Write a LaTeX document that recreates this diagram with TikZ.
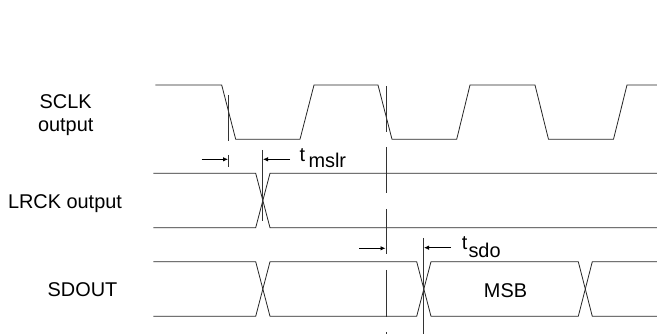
\documentclass[tikz,border=0pt]{standalone}
\usepackage{fontspec}
\setmainfont{Liberation Sans}
\usetikzlibrary{arrows.meta}
\tikzset{
  wave/.style={draw=black!85,line width=0.8pt,line join=miter},
  mark line/.style={draw=black!80,line width=0.7pt},
  dim/.style={draw=black,line width=0.8pt,-{Latex[length=5pt,width=4.5pt]}},
  lab/.style={font=\fontsize{19.9}{22}\selectfont,inner sep=0pt,anchor=base},
  tl/.style={font=\fontsize{19.9}{22}\selectfont,inner sep=0pt,anchor=base west}
}
\begin{document}
\begin{tikzpicture}[x=1pt,y=-1pt]
\useasboundingbox (0,0) rectangle (657,334);
% SCLK
\draw[wave] (155.3,85) -- (221.7,85) -- (235.7,139.3) -- (300,139.3) -- (314,85) -- (378,85) -- (392,139.3) -- (456.7,139.3) -- (470,85) -- (535,85) -- (548.5,139.3) -- (613.5,139.3) -- (627,85) -- (657,85);
% LRCK
\draw[wave] (153.3,173.3) -- (255.7,173.3) -- (270,227.7) -- (657,227.7);
\draw[wave] (153.3,227.7) -- (255.7,227.7) -- (270,173.3) -- (657,173.3);
% SDOUT
\draw[wave] (153.3,261.7) -- (255.7,261.7) -- (270,316.3) -- (416.7,316.3) -- (431,261.7) -- (578.3,261.7) -- (592.3,316.3) -- (657,316.3);
\draw[wave] (153.3,316.3) -- (255.7,316.3) -- (270,261.7) -- (416.7,261.7) -- (431,316.3) -- (578.3,316.3) -- (592.3,261.7) -- (657,261.7);
% reference lines
\coordinate (m1a) at (228.3,95); \coordinate (m1b) at (228.3,141);
\coordinate (m1c) at (228.3,155); \coordinate (m1d) at (228.3,166.7);
\draw[mark line] (m1a) -- (m1b);
\draw[mark line] (m1c) -- (m1d);
\coordinate (m2a) at (262.7,150); \coordinate (m2b) at (262.7,221);
\draw[mark line] (m2a) -- (m2b);
\foreach \ya/\yb in {86/131.7,147/193,209/254,270/317,332/334}
  \draw[mark line] (386,\ya) -- (386,\yb);
\coordinate (m4a) at (423.3,238); \coordinate (m4b) at (423.3,334);
\draw[mark line] (m4a) -- (m4b);
% dimension arrows
\coordinate (a1) at (201.7,159.3); \coordinate (a1e) at (228,159.3);
\coordinate (a2) at (290,159.3); \coordinate (a2e) at (263,159.3);
\coordinate (a3) at (359,248.3); \coordinate (a3e) at (385.5,248.3);
\coordinate (a4) at (451,247.7); \coordinate (a4e) at (424,247.7);
\draw[dim] (a1) -- (a1e);
\draw[dim] (a2) -- (a2e);
\draw[dim] (a3) -- (a3e);
\draw[dim] (a4) -- (a4e);
% labels
\node[lab] (sclk) at (65.7,109) {SCLK};
\node[lab] (sclko) at (65.7,132) {output};
\node[lab] (lrck) at (65,209) {LRCK output};
\node[lab] (sdout) at (82.5,296.5) {SDOUT};
\node[lab] (msb) at (505.5,297.3) {MSB};
\node[tl] (t1) at (299.5,161.7) {t};
\node[tl] (t1s) at (308.3,167.7) {mslr};
\node[tl] (t2) at (461.7,250) {t};
\node[tl] (t2s) at (468.3,257.7) {sdo};
\end{tikzpicture}
\end{document}
